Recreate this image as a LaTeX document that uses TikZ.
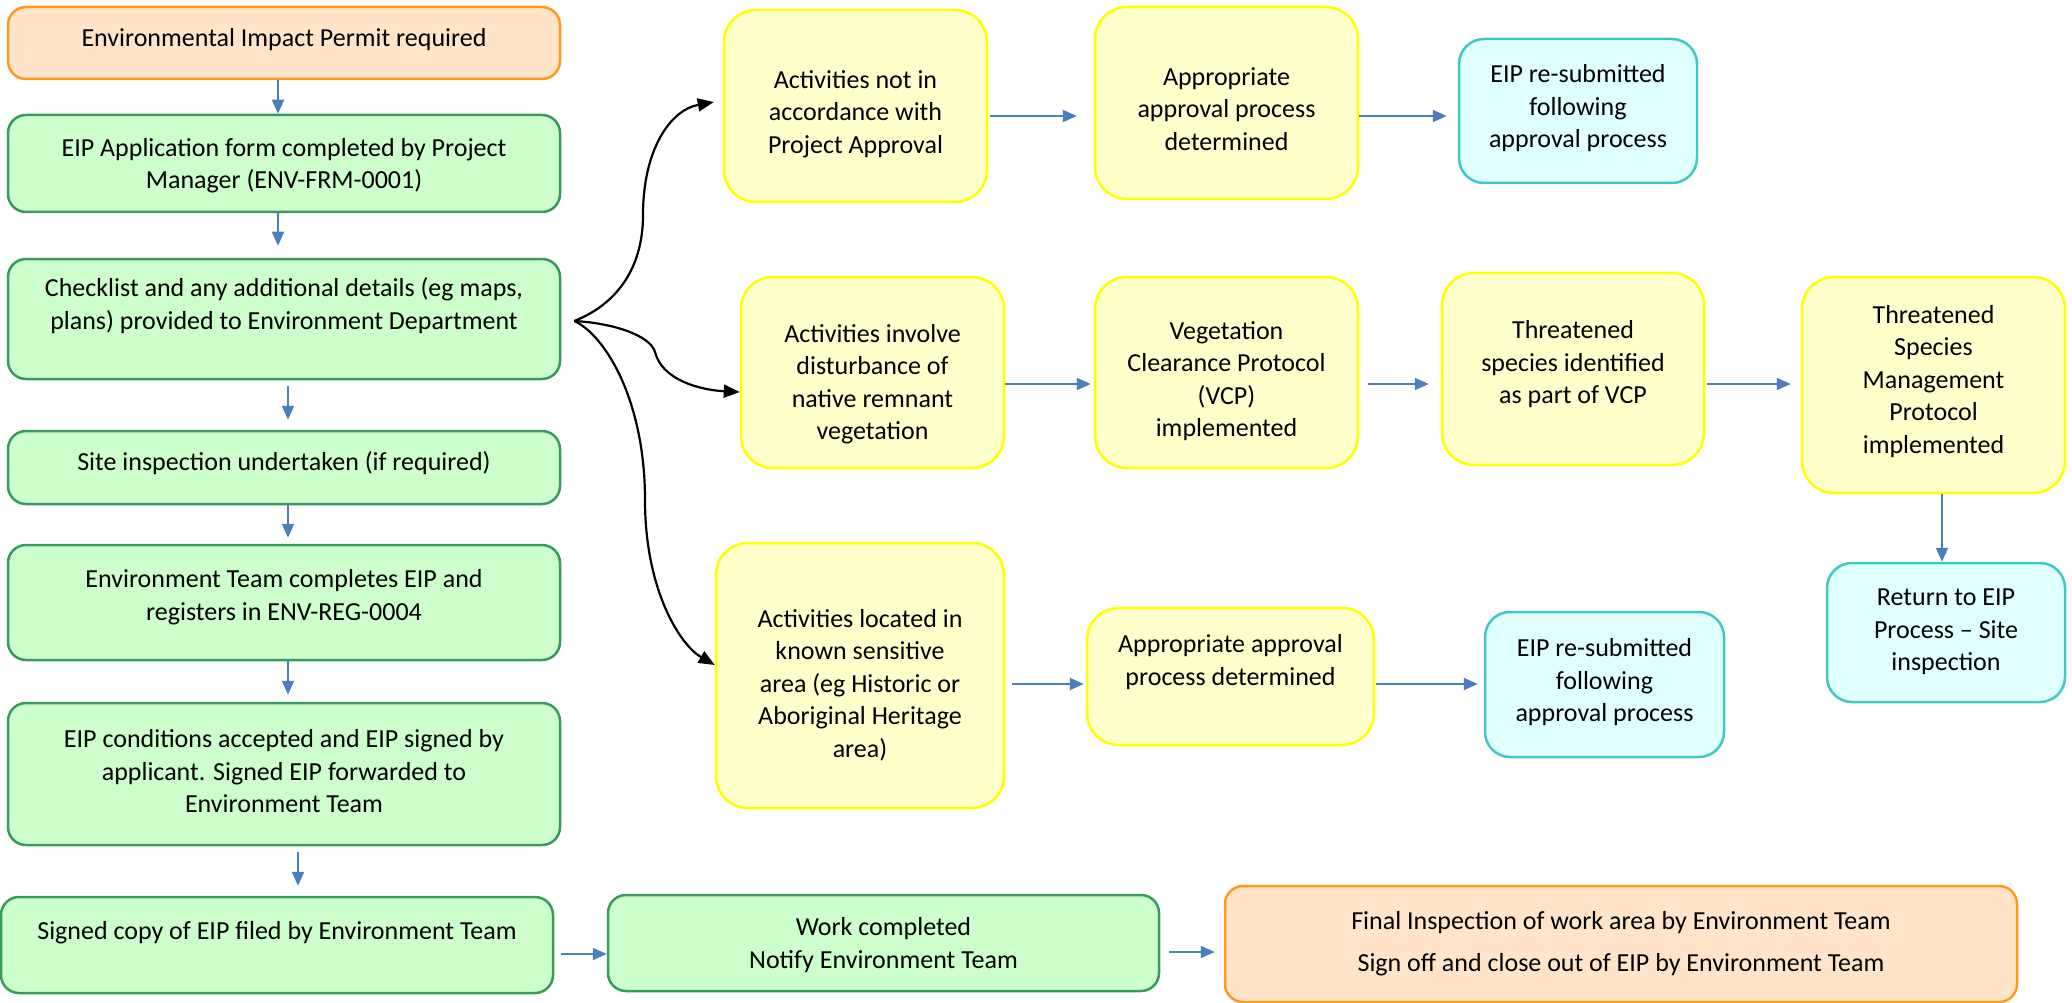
\documentclass[tikz,border=0pt]{standalone}
\usepackage{fontspec}
\setmainfont{Carlito}
\usetikzlibrary{arrows.meta,calc}
\definecolor{gfill}{HTML}{CCFFCC}
\definecolor{gdraw}{HTML}{3A9A5E}
\definecolor{yfill}{HTML}{FFFFCC}
\definecolor{ydraw}{HTML}{FFFF00}
\definecolor{cfill}{HTML}{E0FFFF}
\definecolor{cdraw}{HTML}{40C8C8}
\definecolor{ofill}{HTML}{FFE4CA}
\definecolor{odraw}{HTML}{FF9A1A}
\definecolor{ablue}{HTML}{4A7EBF}
\newcommand{\firstlinehigh}[1]{\rule{0pt}{#1pt}}
\begin{document}
\begin{tikzpicture}[x=1pt,y=-1pt,
  box/.style={rectangle, line width=2.5pt, align=center, inner sep=0pt,
    font=\fontsize{26}{32.5}\selectfont, text depth=2pt},
  gbox/.style={box, draw=gdraw, fill=gfill, rounded corners=18pt},
  obox/.style={box, draw=odraw, fill=ofill, rounded corners=18pt},
  ybox/.style={box, draw=ydraw, fill=yfill, rounded corners=32pt},
  cbox/.style={box, draw=cdraw, fill=cfill, rounded corners=25pt},
  sz/.style 2 args={minimum width=#1pt, minimum height=#2pt},
  td/.style={text depth=#1pt},
  barrow/.style={draw=ablue, line width=2pt, -{Triangle[length=14pt,width=12pt]}},
  karrow/.style={draw=black, line width=2.2pt, -{Triangle[length=16pt,width=13pt]}}]
\useasboundingbox (0,0) rectangle (2072,1003);
\fill[white] (0,0) rectangle (2072,1003);

% left column
\node[obox, sz={552}{72}, td=12] (b1) at (284,43) {Environmental Impact Permit required};
\node[gbox, sz={552}{97}, td=0] (b2) at (284,163.5) {EIP Application form completed by Project\\Manager (ENV-FRM-0001)};
\node[gbox, sz={552}{120}, td=31] (b3) at (284,319) {Checklist and any additional details (eg maps,\\plans) provided to Environment Department};
\node[gbox, sz={552}{73}, td=13] (b4) at (284,467.5) {Site inspection undertaken (if required)};
\node[gbox, sz={552}{115}, td=15] (b5) at (284,602.5) {Environment Team completes EIP and\\registers in ENV-REG-0004};
\node[gbox, sz={552}{142}, td=6] (b6) at (284,774) {EIP conditions accepted and EIP signed by\\applicant. Signed EIP forwarded to\\Environment Team};
\node[gbox, sz={552}{96}, td=30] (b7) at (277,945) {Signed copy of EIP filed by Environment Team};
\node[gbox, sz={551}{96}, td=0] (b8) at (883.5,943) {Work completed\\Notify Environment Team};
\node[obox, sz={792}{116}, td=6] (b9) at (1621,944) {Final Inspection of work area by Environment Team\\[9.5pt]Sign off and close out of EIP by Environment Team};

% branches
\node[ybox, sz={263}{192}] (y1) at (855.5,106) {\firstlinehigh{32}Activities not in\\accordance with\\Project Approval};
\node[ybox, sz={263}{192}] (y2) at (1226.5,103) {\firstlinehigh{32}Appropriate\\approval process\\determined};
\node[cbox, sz={238}{144}, td=10] (c1) at (1578,111) {EIP re-submitted\\following\\approval process};
\node[ybox, sz={263}{191}] (y3) at (872.5,372.5) {\firstlinehigh{39}Activities involve\\disturbance of\\native remnant\\vegetation};
\node[ybox, sz={263}{191}] (y4) at (1226.5,372.5) {\firstlinehigh{33}Vegetation\\Clearance Protocol\\(VCP)\\implemented};
\node[ybox, sz={262}{192}, td=14] (y5) at (1573,369) {Threatened\\species identified\\as part of VCP};
\node[ybox, sz={263}{216}, td=12] (y6) at (1933.5,385) {Threatened\\Species\\Management\\Protocol\\implemented};
\node[cbox, sz={238}{139}, td=5] (c2) at (1946,632.5) {Return to EIP\\Process – Site\\inspection};
\node[ybox, sz={288}{265}] (y7) at (860,675.5) {\firstlinehigh{35}Activities located in\\known sensitive\\area (eg Historic or\\Aboriginal Heritage\\area)};
\node[ybox, sz={287}{137}, td=33] (y8) at (1230.5,676.5) {Appropriate approval\\process determined};
\node[cbox, sz={239}{145}, td=9] (c3) at (1604.5,684.5) {EIP re-submitted\\following\\approval process};

% blue arrows, left column
\draw[barrow] ([xshift=-6pt]b1.south) -- ([xshift=-6pt]b2.north);
\draw[barrow, shorten >=12pt] ([xshift=-6pt]b2.south) -- ([xshift=-6pt]b3.north);
\draw[barrow, shorten <=6pt, shorten >=10pt] ([xshift=4pt]b3.south) -- ([xshift=4pt]b4.north);
\draw[barrow, shorten >=6pt] ([xshift=4pt]b4.south) -- ([xshift=4pt]b5.north);
\draw[barrow, shorten >=7pt] ([xshift=4pt]b5.south) -- ([xshift=4pt]b6.north);
\draw[barrow, shorten <=6pt, shorten >=10pt] (b6.south -| 298,0) -- (b7.north -| 298,0);
\draw[barrow, shorten <=7pt] (b7.east |- 0,954) -- (b8.west |- 0,954);
\draw[barrow, shorten <=9pt, shorten >=9pt] (b8.east |- 0,952) -- (b9.west |- 0,952);

% blue arrows, branches
\draw[barrow, shorten <=2pt, shorten >=17pt] (y1.east |- 0,116) -- (y2.west |- 0,116);
\draw[barrow, shorten >=11pt] (y2.east |- 0,116) -- (c1.west |- 0,116);
\draw[barrow, shorten >=3pt] (y3.east |- 0,384) -- (y4.west |- 0,384);
\draw[barrow, shorten <=9pt, shorten >=12pt] (y4.east |- 0,384) -- (y5.west |- 0,384);
\draw[barrow, shorten <=2pt, shorten >=10pt] (y5.east |- 0,384) -- (y6.west |- 0,384);
\draw[barrow] (y6.south -| 1942,0) -- (c2.north -| 1942,0);
\draw[barrow, shorten <=7pt, shorten >=2pt] (y7.east |- 0,684) -- (y8.west |- 0,684);
\draw[barrow, shorten <=1pt, shorten >=6pt] (y8.east |- 0,684) -- (c3.west |- 0,684);

% black curved connectors
\coordinate (fork) at ([xshift=13pt,yshift=-2pt]b3.east);
\draw[karrow] (fork) .. controls (615,305) and (643,270) .. (643,215)
  .. controls (643,150) and (670,110) .. ([xshift=-9pt,yshift=4pt]y1.west);
\draw[karrow] (fork) .. controls (612,323) and (650,335) .. (655,352)
  .. controls (662,380) and (700,390) .. ([yshift=-19.5pt]y3.west);
\draw[karrow] (fork) .. controls (605,335) and (645,400) .. (645,500)
  .. controls (645,590) and (680,645) .. ([yshift=10.5pt]y7.west);
\end{tikzpicture}
\end{document}
